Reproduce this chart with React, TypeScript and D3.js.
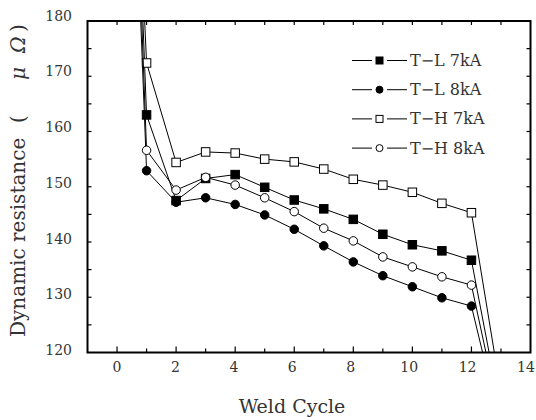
import React from "react";
import * as d3 from "d3";

const cycles = [0, 1, 2, 3, 4, 5, 6, 7, 8, 9, 10, 11, 12, 13];
const tl7 = [300, 163.0, 147.5, 151.5, 152.2, 149.9, 147.6, 146.0, 144.1, 141.4, 139.5, 138.4, 136.7, 108.8];
const tl8 = [290, 152.9, 147.2, 148.0, 146.8, 144.9, 142.3, 139.3, 136.4, 133.9, 131.9, 129.9, 128.4, 106.2];
const th7 = [290, 172.4, 154.4, 156.3, 156.1, 155.0, 154.5, 153.2, 151.35, 150.3, 149.0, 147.0, 145.3, 112.7];
const th8 = [300, 156.6, 149.4, 151.7, 150.3, 148.0, 145.5, 142.5, 140.2, 137.3, 135.5, 133.7, 132.2, 107.4];
const seriesNames = ["T\u2212L 7kA", "T\u2212L 8kA", "T\u2212H 7kA", "T\u2212H 8kA"];
const xTickLabels = [0, 2, 4, 6, 8, 10, 12, 14];
const yTickLabels = [120, 130, 140, 150, 160, 170, 180];

const W = 536, H = 420;
const L = 87.5, R = 530.5, T = 21, B = 352.5;
const FONT = "'DejaVu Serif', serif";
const TXT = "#333";

export default function App() {
  const x = d3.scaleLinear().domain([-1, 14]).range([L, R]);
  const y = d3.scaleLinear().domain([120, 180]).range([B, T]);
  // label placement scales (the printed labels sit slightly off the ticks)
  const xLab = d3.scaleLinear().domain([0, 14]).range([117, 526]);
  const yLab = d3.scaleLinear().domain([120, 180]).range([355, 20.7]);
  const line = d3.line<number>().x((_, i) => x(cycles[i])).y((d) => y(d));

  const series = [
    { name: seriesNames[0], data: tl7, shape: "square", fill: "#000" },
    { name: seriesNames[1], data: tl8, shape: "circle", fill: "#000" },
    { name: seriesNames[2], data: th7, shape: "square", fill: "#fff" },
    { name: seriesNames[3], data: th8, shape: "circle", fill: "#fff" },
  ];

  const marker = (shape: string, fill: string, cx: number, cy: number, s: number, key?: any) =>
    shape === "square" ? (
      <rect key={key} x={cx - s / 2} y={cy - s / 2} width={s} height={s} fill={fill} stroke="#000" strokeWidth={1} />
    ) : (
      <circle key={key} cx={cx} cy={cy} r={s / 2} fill={fill} stroke="#000" strokeWidth={1} />
    );

  const xMinor = d3.range(0, 14, 1);
  const yMinor = d3.range(125, 180, 5);

  return (
    <svg width={W} height={H} style={{ position: "absolute", left: 0, top: 0 }}>
      <rect width={W} height={H} fill="#fff" />
      <defs>
        <clipPath id="plot">
          <rect x={L} y={T} width={R - L} height={B - T} />
        </clipPath>
      </defs>
      {xMinor.map((v) => {
        const len = v % 2 === 0 ? 6 : 4;
        return (
          <g key={"xt" + v}>
            <line x1={x(v)} x2={x(v)} y1={B} y2={B - len} stroke="#000" strokeWidth={1.2} />
            <line x1={x(v)} x2={x(v)} y1={T} y2={T + 4} stroke="#000" strokeWidth={1.2} />
          </g>
        );
      })}
      {yMinor.map((v) => (
        <g key={"yt" + v}>
          <line x1={L} x2={L + 4} y1={y(v)} y2={y(v)} stroke="#000" strokeWidth={1.2} />
          <line x1={R} x2={R - 4} y1={y(v)} y2={y(v)} stroke="#000" strokeWidth={1.2} />
        </g>
      ))}
      <g clipPath="url(#plot)">
        {series.map((s, si) => (
          <g key={si}>
            <path d={line(s.data) || ""} fill="none" stroke="#000" strokeWidth={1} />
            {s.data.map((v, i) =>
              v >= 120 && v <= 180 ? marker(s.shape, s.fill, x(cycles[i]), y(v), 8.5, i) : null
            )}
          </g>
        ))}
      </g>
      <rect x={L} y={T} width={R - L} height={B - T} fill="none" stroke="#000" strokeWidth={2} />
      {xTickLabels.map((v) => (
        <text key={"xl" + v} x={xLab(v)} y={372} textAnchor="middle" fontFamily={FONT} fontSize={14} fill={TXT}>
          {v}
        </text>
      ))}
      {yTickLabels.map((v) => (
        <text key={"yl" + v} x={72} y={yLab(v)} textAnchor="end" fontFamily={FONT} fontSize={14} fill={TXT}>
          {v}
        </text>
      ))}
      {series.map((s, i) => {
        const cy = 60.5 + i * 29.2;
        return (
          <g key={"lg" + i}>
            <line x1={352} x2={372} y1={cy} y2={cy} stroke="#000" strokeWidth={1} />
            <line x1={387} x2={407} y1={cy} y2={cy} stroke="#000" strokeWidth={1} />
            {marker(s.shape, s.fill, 379.5, cy, 7)}
            <text x={410} y={cy + 5.5} fontFamily={FONT} fontSize={16} fill={TXT}>
              {s.name}
            </text>
          </g>
        );
      })}
      <text x={292} y={413} textAnchor="middle" fontFamily={FONT} fontSize={19} fill={TXT}>
        Weld Cycle
      </text>
      <text transform="translate(25,337) rotate(-90)" fontFamily={FONT} fontSize={20} fill={TXT}>
        <tspan x={0}>Dynamic resistance</tspan>
        <tspan x={214}>(</tspan>
        <tspan x={257} fontStyle="italic">{"\u03BC"}</tspan>
        <tspan x={284} fontStyle="italic">{"\u03A9"}</tspan>
        <tspan x={305}>)</tspan>
      </text>
    </svg>
  );
}
